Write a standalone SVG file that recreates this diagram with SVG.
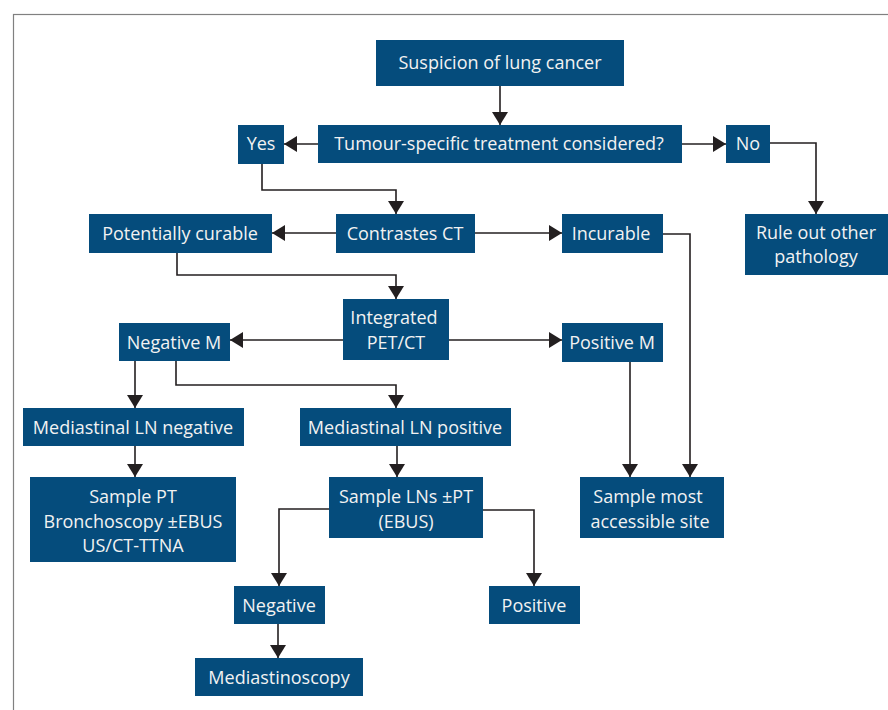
<svg xmlns="http://www.w3.org/2000/svg" width="888" height="710" viewBox="0 0 888 710">
<defs>
<style>
.box{fill:#054c7c}
.t{font-family:"Open Sans","Liberation Sans",sans-serif;font-size:18px;fill:#f2f2f2;text-anchor:middle}
.c{fill:none;stroke:#231f20;stroke-width:1.6}
</style>
<marker id="ah" viewBox="0 0 13 16" refX="13" refY="8" markerWidth="13" markerHeight="16" markerUnits="userSpaceOnUse" orient="auto">
<path d="M0,0 L13,8 L0,16 Z" fill="#231f20"/>
</marker>
</defs>
<rect x="0" y="0" width="888" height="710" fill="#ffffff"/>
<rect x="13.5" y="14.5" width="900" height="720" fill="none" stroke="#808080" stroke-width="1.2"/>
<g id="connectors">
<path class="c" d="M500,86 V125" marker-end="url(#ah)"/>
<path class="c" d="M318,144 H284" marker-end="url(#ah)"/>
<path class="c" d="M682,144 H726" marker-end="url(#ah)"/>
<path class="c" d="M770,143 H816 V214" marker-end="url(#ah)"/>
<path class="c" d="M262,164 V190 H396 V214" marker-end="url(#ah)"/>
<path class="c" d="M336,233 H272" marker-end="url(#ah)"/>
<path class="c" d="M475,233 H562" marker-end="url(#ah)"/>
<path class="c" d="M663,234 H690 V477" marker-end="url(#ah)"/>
<path class="c" d="M177,253 V275 H396 V299" marker-end="url(#ah)"/>
<path class="c" d="M343,340 H230" marker-end="url(#ah)"/>
<path class="c" d="M449,340 H562" marker-end="url(#ah)"/>
<path class="c" d="M135,361 V408" marker-end="url(#ah)"/>
<path class="c" d="M176,361 V385 H396 V408" marker-end="url(#ah)"/>
<path class="c" d="M135,446 V477" marker-end="url(#ah)"/>
<path class="c" d="M397,446 V477" marker-end="url(#ah)"/>
<path class="c" d="M329,509 H279 V586" marker-end="url(#ah)"/>
<path class="c" d="M483,510 H534 V586" marker-end="url(#ah)"/>
<path class="c" d="M630,362 V477" marker-end="url(#ah)"/>
<path class="c" d="M278,624 V658" marker-end="url(#ah)"/>
</g>
<g id="suspicion"><rect class="box" x="376" y="40" width="248" height="46"/><text class="t" x="500" y="69">Suspicion of lung cancer</text></g>
<g id="tumour"><rect class="box" x="318" y="125" width="364" height="38"/><text class="t" x="499" y="150">Tumour-specific treatment considered?</text></g>
<g id="yes"><rect class="box" x="238" y="125" width="46" height="39"/><text class="t" x="261" y="150">Yes</text></g>
<g id="no"><rect class="box" x="726" y="125" width="44" height="38"/><text class="t" x="748" y="150">No</text></g>
<g id="ruleout"><rect class="box" x="745" y="214" width="143" height="61"/><text class="t" x="816" y="239">Rule out other</text><text class="t" x="816" y="263">pathology</text></g>
<g id="contrastct"><rect class="box" x="336" y="214" width="139" height="39"/><text class="t" x="405" y="240">Contrastes CT</text></g>
<g id="incurable"><rect class="box" x="562" y="214" width="101" height="39"/><text class="t" x="611" y="240">Incurable</text></g>
<g id="curable"><rect class="box" x="89" y="214" width="183" height="39"/><text class="t" x="180" y="240">Potentially curable</text></g>
<g id="petct"><rect class="box" x="343" y="299" width="106" height="61"/><text class="t" x="394" y="324">Integrated</text><text class="t" x="396" y="349">PET/CT</text></g>
<g id="negm"><rect class="box" x="119" y="323" width="111" height="38"/><text class="t" x="174" y="349">Negative M</text></g>
<g id="posm"><rect class="box" x="562" y="323" width="101" height="39"/><text class="t" x="612" y="349">Positive M</text></g>
<g id="lnneg"><rect class="box" x="23" y="408" width="221" height="38"/><text class="t" x="133" y="434">Mediastinal LN negative</text></g>
<g id="lnpos"><rect class="box" x="300" y="408" width="211" height="38"/><text class="t" x="405" y="434">Mediastinal LN positive</text></g>
<g id="samplept"><rect class="box" x="30" y="477" width="206" height="85"/><text class="t" x="133" y="503">Sample PT</text><text class="t" x="133" y="528">Bronchoscopy ±EBUS</text><text class="t" x="133" y="552">US/CT-TTNA</text></g>
<g id="samplelns"><rect class="box" x="329" y="477" width="154" height="61"/><text class="t" x="406" y="503">Sample LNs ±PT</text><text class="t" x="406" y="528">(EBUS)</text></g>
<g id="samplemost"><rect class="box" x="580" y="477" width="144" height="61"/><text class="t" x="648" y="503">Sample most</text><text class="t" x="650" y="528">accessible site</text></g>
<g id="negative"><rect class="box" x="234" y="586" width="91" height="38"/><text class="t" x="279" y="612">Negative</text></g>
<g id="positive"><rect class="box" x="489" y="586" width="91" height="38"/><text class="t" x="534" y="612">Positive</text></g>
<g id="mediastinoscopy"><rect class="box" x="195" y="658" width="168" height="38"/><text class="t" x="279" y="684">Mediastinoscopy</text></g>
</svg>
